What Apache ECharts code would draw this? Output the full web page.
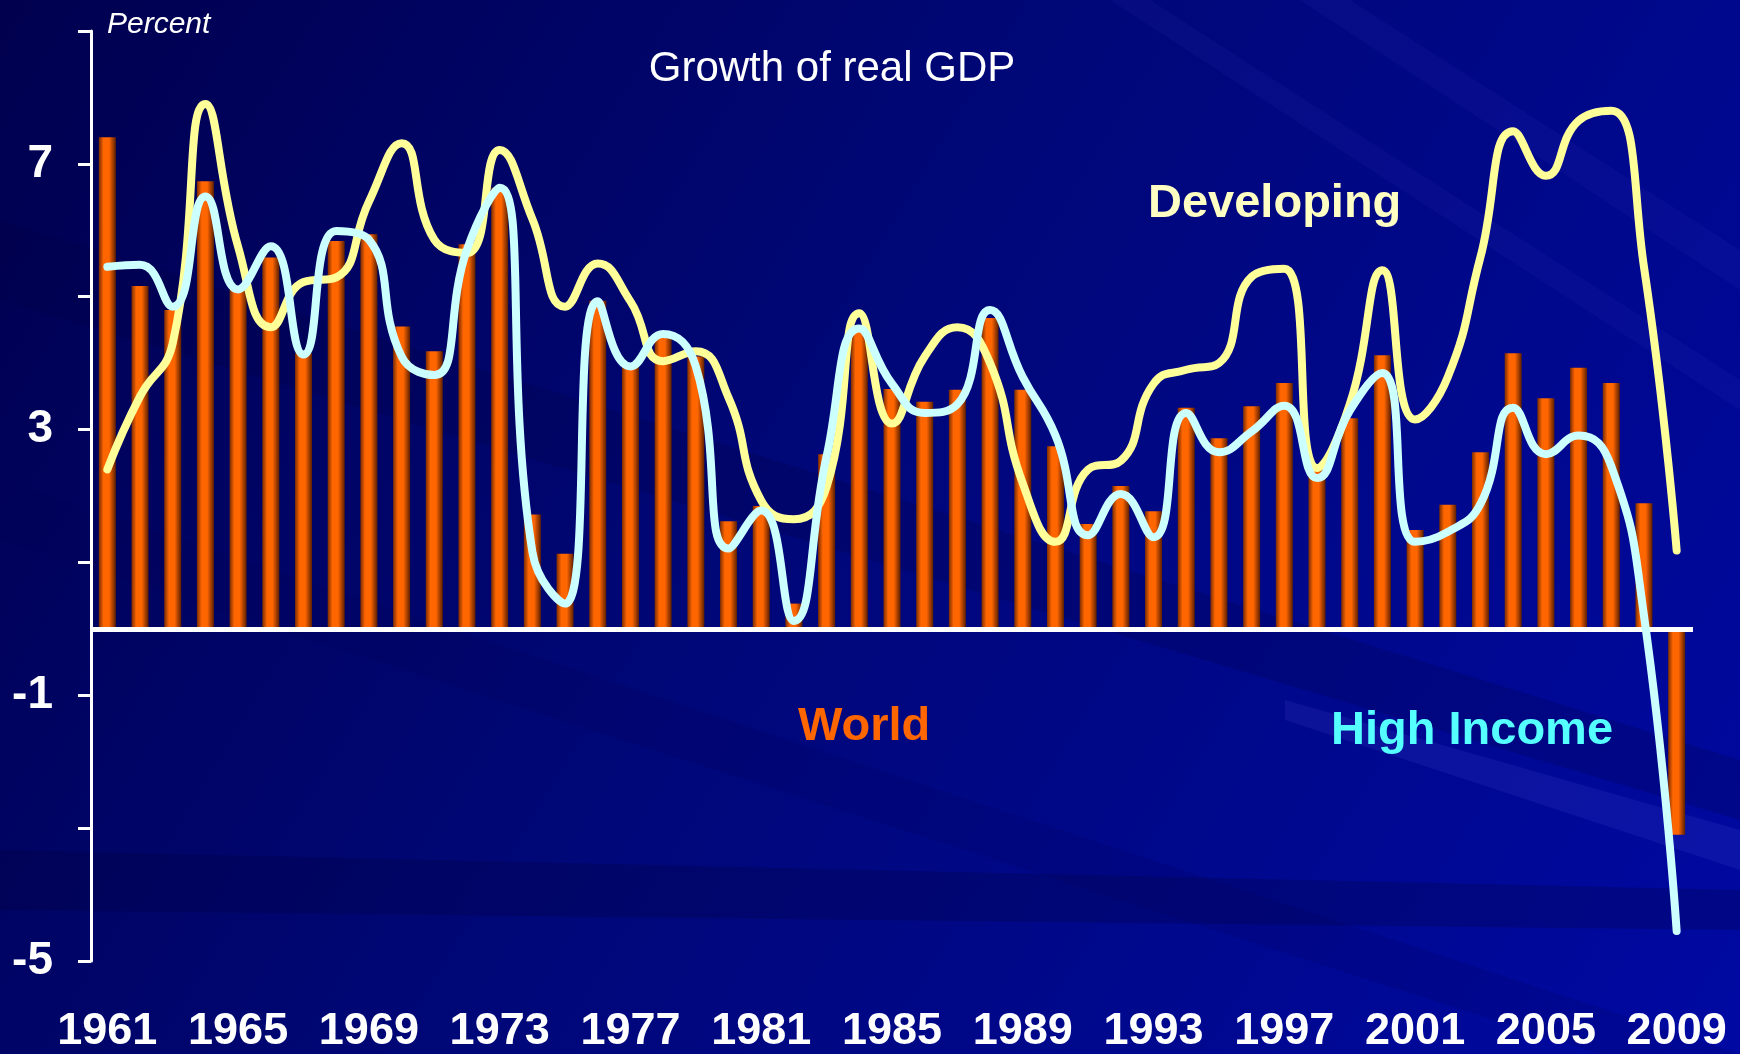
<!DOCTYPE html>
<html>
<head>
<meta charset="utf-8">
<script src="https://cdn.jsdelivr.net/npm/echarts@6/dist/echarts.min.js"></script>
<style>
html,body{margin:0;padding:0;background:#000570;}
#chart{width:1740px;height:1054px;}
</style>
</head>
<body>
<div id="chart"></div>
<script>
const years = [];
for (let y = 1961; y <= 2009; y++) years.push(String(y));

const world = [7.40,5.16,4.80,6.74,5.10,5.59,4.15,5.84,5.94,4.55,4.18,5.79,6.64,1.72,1.13,4.94,4.00,4.39,4.10,1.62,
  1.85,0.38,2.63,4.52,3.61,3.42,3.60,4.68,3.60,2.75,1.58,2.15,1.77,3.33,2.87,3.35,3.70,2.40,3.17,4.12,
  1.49,1.87,2.66,4.15,3.47,3.93,3.70,1.89,-3.10];

const developing = [2.40,3.50,4.30,7.90,5.75,4.54,5.22,5.29,6.43,7.31,5.86,5.66,7.21,6.17,4.85,5.50,4.93,4.03,4.18,3.48,
  1.93,1.65,2.14,4.75,3.09,4.10,4.54,4.00,2.19,1.31,2.40,2.53,3.69,3.90,4.00,5.30,5.42,2.42,3.38,5.40,
  3.15,3.79,5.60,7.49,6.82,7.65,7.80,5.45,1.18];

const highIncome = [5.45,5.48,4.85,6.51,5.11,5.76,4.13,5.99,5.86,4.10,3.82,5.71,6.64,1.16,0.38,4.93,3.95,4.44,3.95,1.21,
  1.78,0.12,2.60,4.52,3.69,3.25,3.38,4.80,3.79,2.91,1.41,2.03,1.38,3.25,2.66,2.97,3.36,2.27,3.28,3.85,
  1.31,1.46,1.88,3.33,2.63,2.91,2.45,0.20,-4.55];

const yTickLabels = [-5, -1, 3, 7];

const SANS = "'Liberation Sans', Arial, sans-serif";

const chart = echarts.init(document.getElementById('chart'), null, {renderer: 'canvas'});

const streak = (pts, color) => ({
  type: 'polygon', z: 0, silent: true,
  shape: {points: pts},
  style: {fill: color}
});

const option = {
  animation: false,
  backgroundColor: {
    type: 'linear', x: 0, y: 0, x2: 1, y2: 1,
    colorStops: [
      {offset: 0, color: '#00004e'},
      {offset: 0.45, color: '#000777'},
      {offset: 1, color: '#0009a2'}
    ]
  },
  graphic: [
    streak([[0,220],[1740,760],[1740,820],[0,300]], 'rgba(0,0,60,0.2)'),
    streak([[0,850],[1740,890],[1740,930],[0,910]], 'rgba(0,0,50,0.22)'),
    streak([[1285,700],[1740,830],[1740,870],[1285,720]], 'rgba(120,120,255,0.10)'),
    streak([[1150,0],[1740,380],[1740,410],[1110,0]], 'rgba(120,120,255,0.05)'),
    streak([[1350,0],[1740,250],[1740,290],[1300,0]], 'rgba(120,120,255,0.05)'),
    streak([[0,480],[1740,1054],[1600,1054],[0,540]], 'rgba(0,0,80,0.15)')
  ],
  title: [
    {
      text: 'Percent', left: 107, top: 10, padding: 0,
      textStyle: {color: '#ffffff', fontStyle: 'italic', fontWeight: 'normal', fontSize: 30, fontFamily: SANS}
    },
    {
      text: 'Growth of real GDP', left: 832, top: 48, textAlign: 'center', padding: 0,
      textStyle: {color: '#ffffff', fontWeight: 'normal', fontSize: 42, fontFamily: SANS,
        textShadowColor: '#000000', textShadowOffsetX: 2, textShadowOffsetY: 2, textShadowBlur: 0}
    },
    {
      text: 'Developing', left: 1143, top: 176,
      textStyle: {color: '#ffffc4', fontWeight: 'bold', fontSize: 47, fontFamily: SANS,
        textShadowColor: '#000000', textShadowOffsetX: 2, textShadowOffsetY: 2, textShadowBlur: 0}
    },
    {
      text: 'World', left: 793, top: 699,
      textStyle: {color: '#ff6600', fontWeight: 'bold', fontSize: 47, fontFamily: SANS,
        textShadowColor: '#000000', textShadowOffsetX: 2, textShadowOffsetY: 2, textShadowBlur: 0}
    },
    {
      text: 'High Income', left: 1326, top: 703,
      textStyle: {color: '#55ffff', fontWeight: 'bold', fontSize: 47, fontFamily: SANS,
        textShadowColor: '#000000', textShadowOffsetX: 2, textShadowOffsetY: 2, textShadowBlur: 0}
    }
  ],
  grid: {left: 91, right: 47, top: 31, bottom: 91, containLabel: false},
  xAxis: {
    type: 'category',
    data: years,
    boundaryGap: true,
    axisLine: {show: false, onZero: false},
    axisTick: {show: false},
    axisLabel: {
      interval: 3, color: '#ffffff', fontWeight: 'bold', fontSize: 45, fontFamily: SANS, margin: 48
    },
    splitLine: {show: false}
  },
  yAxis: {
    type: 'value', min: -5, max: 9, interval: 2,
    axisLine: {show: true, lineStyle: {color: '#ffffff', width: 3}},
    axisTick: {show: true, inside: false, length: 13, lineStyle: {color: '#ffffff', width: 3}},
    axisLabel: {
      color: '#ffffff', fontWeight: 'bold', fontSize: 46, fontFamily: SANS, margin: 38,
      formatter: v => yTickLabels.indexOf(v) >= 0 ? String(v) : ''
    },
    splitLine: {show: false}
  },
  series: [
    {
      name: 'World', type: 'bar', data: world, barWidth: '52%', z: 2,
      itemStyle: {
        color: {
          type: 'linear', x: 0, y: 0, x2: 1, y2: 0,
          colorStops: [
            {offset: 0, color: '#7a2c00'},
            {offset: 0.28, color: '#ff6600'},
            {offset: 0.6, color: '#ff6600'},
            {offset: 1, color: '#5c1f00'}
          ]
        }
      },
      markLine: {
        silent: true, symbol: ['none', 'none'], z: 3,
        label: {show: false},
        lineStyle: {color: '#ffffff', width: 5, type: 'solid'},
        data: [{yAxis: 0}]
      }
    },
    {
      name: 'Developing', type: 'line', data: developing, smooth: 0.5, showSymbol: false, z: 4,
      lineStyle: {color: '#ffff99', width: 8, cap: 'round', join: 'round'}
    },
    {
      name: 'High Income', type: 'line', data: highIncome, smooth: 0.5, showSymbol: false, z: 5,
      lineStyle: {color: '#ccffff', width: 8, cap: 'round', join: 'round'}
    }
  ]
};
chart.setOption(option);
</script>
</body>
</html>
